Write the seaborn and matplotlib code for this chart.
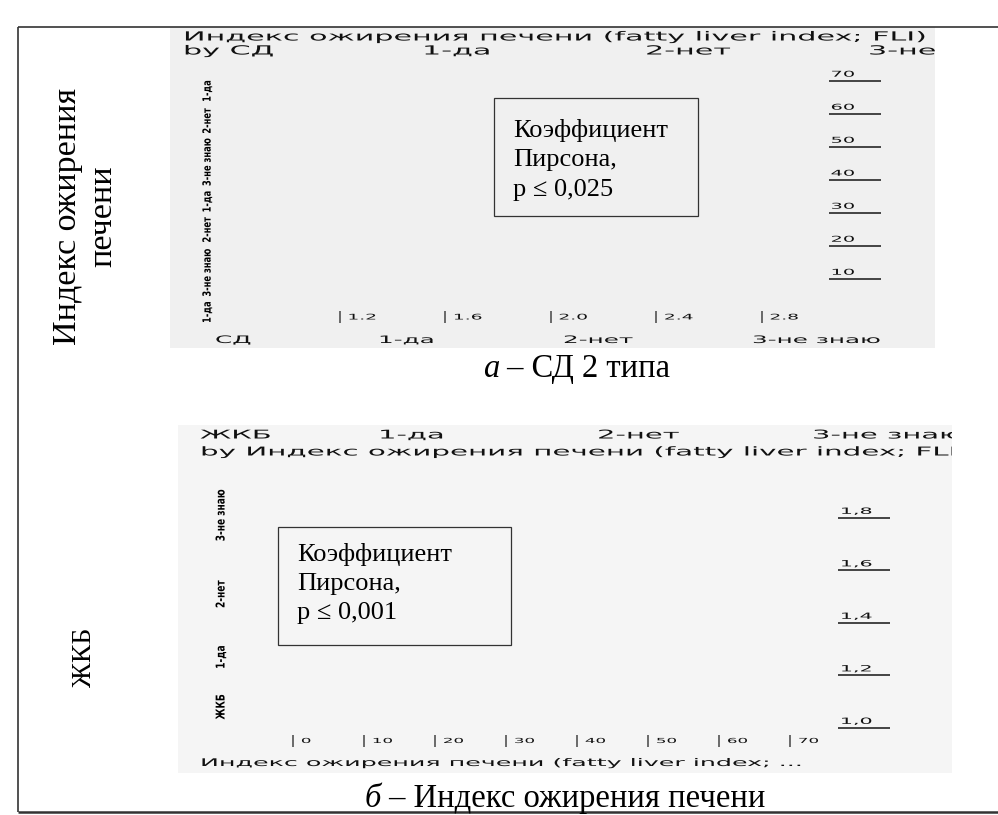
import matplotlib
matplotlib.use("Agg")
import matplotlib.pyplot as plt
import numpy as np
import pandas as pd
import seaborn as sns
from matplotlib.patches import Rectangle
from matplotlib.patheffects import AbstractPathEffect
from matplotlib.transforms import Affine2D

# ---------------------------------------------------------------- data
# panel а: FLI by СД
sd_title = "Индекс ожирения печени (fatty liver index; FLI)"
sd_groups = ["by СД", "1-да", "2-нет", "3-не знаю"]
sd_bottom = ["СД", "1-да", "2-нет", "3-не знаю"]
sd_xticks = [1.2, 1.6, 2.0, 2.4, 2.8]
sd_xtick_labels = ["1.2", "1.6", "2.0", "2.4", "2.8"]
fli_yticks = [10, 20, 30, 40, 50, 60, 70]
fli_ytick_labels = ["10", "20", "30", "40", "50", "60", "70"]
sd_point_x = 0.70
sd_point_fli = [0, 12, 25, 33.5, 45.5, 58, 67]
sd_point_lab = ["1-да", "3-не знаю", "2-нет", "1-да", "3-не знаю", "2-нет", "1-да"]
sd_box = ["Коэффициент", "Пирсона,", "p ≤ 0,025"]

# panel б: ЖКБ by FLI
zh_groups = ["ЖКБ", "1-да", "2-нет", "3-не знаю"]
zh_title = "by Индекс ожирения печени (fatty liver index; FLI)"
zh_bottom = "Индекс ожирения печени (fatty liver index; ..."
zh_xticks = [0, 10, 20, 30, 40, 50, 60, 70]
zh_xtick_labels = ["0", "10", "20", "30", "40", "50", "60", "70"]
zh_yticks = [1.0, 1.2, 1.4, 1.6, 1.8]
zh_ytick_labels = ["1,0", "1,2", "1,4", "1,6", "1,8"]
zh_point_x = -10
zh_point_y = [1.08, 1.27, 1.51, 1.81]
zh_point_lab = ["ЖКБ", "1-да", "2-нет", "3-не знаю"]
zh_box = ["Коэффициент", "Пирсона,", "p ≤ 0,001"]

# ---------------------------------------------------------------- style
sns.set_theme(style="white")
plt.rcParams["font.family"] = ["DejaVu Sans"]
SERIF = ["Liberation Serif", "DejaVu Serif"]
INK = "#111111"
TICK = "#444444"

W, H = 998, 815
fig = plt.figure(figsize=(W / 100, H / 100), dpi=100)
fig.patch.set_facecolor("white")


class Stretch(AbstractPathEffect):
    """Draw glyphs scaled along (sx) and across (sy) the text direction."""

    def __init__(self, sx, sy=1.0):
        super().__init__()
        self.sx, self.sy = sx, sy

    def draw_path(self, renderer, gc, tpath, affine, rgbFace=None):
        renderer.draw_path(gc, tpath, Affine2D().scale(self.sx, self.sy) + affine, rgbFace)


WIDE = [Stretch(2.4)]
THICK = [Stretch(1.0, 1.35)]


def px_axes(box, **kw):
    l, t, r, b = box
    return fig.add_axes([l / W, 1 - b / H, (r - l) / W, (b - t) / H], **kw)


def make_panel(box, face):
    ax = px_axes(box)
    ax.set_facecolor(face)
    for s in ax.spines.values():
        s.set_visible(False)
    return ax


def finish_panel(ax, xlim, ylim):
    ax.set_xlim(*xlim)
    ax.set_ylim(*ylim)
    ax.set_xticks([])
    ax.set_yticks([])
    ax.set_xlabel("")
    ax.set_ylabel("")


def ptext(ax, box, x, y, s, size):
    l, t, r, b = box
    ax.text((x - l) / (r - l), (b - y) / (b - t), s, transform=ax.transAxes,
            fontsize=size, ha="left", va="center", color=INK, clip_on=True,
            path_effects=WIDE)


def draw_axes_ticks(ax, xt, xl, bar_y, x_dx, yt, yl, line_x, lab_x, y_dy, size_x, size_y):
    bars = pd.DataFrame({"v": xt, "y": [bar_y] * len(xt)})
    sns.scatterplot(data=bars, x="v", y="y", marker="|", s=70, color=TICK,
                    linewidth=1.1, ax=ax, legend=False)
    for v, lab in zip(xt, xl):
        ax.text(v + x_dx, bar_y, lab, fontsize=size_x, ha="left", va="center",
                color=INK, path_effects=WIDE)
    rules = pd.DataFrame({"x": [line_x] * len(yt), "v": yt})
    sns.scatterplot(data=rules, x="x", y="v", marker="_", s=1400, color=TICK,
                    linewidth=1.4, ax=ax, legend=False)
    for v, lab in zip(yt, yl):
        ax.text(lab_x, v + y_dy, lab, fontsize=size_y, ha="left", va="bottom",
                color=INK, path_effects=WIDE)


# ---------------------------------------------------------------- panel а
box1 = (170, 27, 935, 348)
xlim1, ylim1 = (0.5555, 3.456), (-10.9, 86.36)
ax1 = make_panel(box1, "#f0f0f0")
draw_axes_ticks(ax1, sd_xticks, sd_xtick_labels, -1.5, 0.028,
                fli_yticks, fli_ytick_labels, 3.154, 3.06, 0.7, 5.6, 5.8)
for v, lab in zip(sd_point_fli, sd_point_lab):
    ax1.text(sd_point_x, v, lab, rotation=90, fontsize=6.0, fontweight="bold",
             ha="center", va="center", color="black", path_effects=THICK)
ptext(ax1, box1, 183, 37, sd_title, 9.05)
for x, s in zip([183, 422, 645, 868], sd_groups):
    ptext(ax1, box1, x, 51, s, 9.05)
for x, s in zip([215, 378, 563, 752], sd_bottom):
    ptext(ax1, box1, x, 340, s, 7.4)
finish_panel(ax1, xlim1, ylim1)

# ---------------------------------------------------------------- panel б
box2 = (178, 425, 952, 773)
xlim2, ylim2 = (-16.2, 92.8), (0.8286, 2.154)
ax2 = make_panel(box2, "#f5f5f5")
draw_axes_ticks(ax2, zh_xticks, zh_xtick_labels, 0.9505, 1.1,
                zh_yticks, zh_ytick_labels, 80.4, 77.0, 0.008, 5.0, 6.2)
for v, lab in zip(zh_point_y, zh_point_lab):
    ax2.text(zh_point_x, v, lab, rotation=90, fontsize=6.5, fontweight="bold",
             ha="center", va="center", color="black", path_effects=THICK)
for x, s in zip([200, 378, 597, 812], zh_groups):
    ptext(ax2, box2, x, 435, s, 8.7)
ptext(ax2, box2, 200, 452, zh_title, 8.8)
ptext(ax2, box2, 200, 763, zh_bottom, 7.6)
finish_panel(ax2, xlim2, ylim2)

# ---------------------------------------------------------------- page layer
doc = fig.add_axes([0, 0, 1, 1], zorder=10)
doc.set_xlim(0, W)
doc.set_ylim(H, 0)
doc.axis("off")
doc.patch.set_alpha(0)

# table frame
doc.plot([18, 998], [27, 27], color="#333333", lw=1.2, solid_capstyle="butt")
doc.plot([18, 18], [27, 812], color="#333333", lw=1.2, solid_capstyle="butt")
doc.plot([18, 998], [812, 812], color="#333333", lw=1.8, solid_capstyle="butt")

# left-column row headers
doc.text(85, 216, "Индекс ожирения\nпечени", rotation=90, ha="center", va="center",
         multialignment="center", fontsize=24.5, family=SERIF, color="black",
         linespacing=1.2)
doc.text(85, 657, "ЖКБ", rotation=90, ha="center", va="center", fontsize=20,
         family=SERIF, color="black")

# correlation notes
for (l, t, r, b), lines, x0, ys in [((494, 98, 698, 216), sd_box, 513, [130, 160, 190]),
                                    ((278, 527, 511, 645), zh_box, 297, [555, 584, 613])]:
    doc.add_patch(Rectangle((l, t), r - l, b - t, fill=False, ec="#333333", lw=0.9))
    for y, s in zip(ys, lines):
        doc.text(x0, y, s, ha="left", va="center", fontsize=19, family=SERIF,
                 color="black")

# captions
for x0, y0, letter, rest in [(483, 384, "а", " – СД 2 типа"),
                             (365, 814, "б", " – Индекс ожирения печени")]:
    it = doc.text(x0, y0, letter, ha="left", va="bottom", fontsize=23.5,
                  family=SERIF, style="italic", color="black")
    doc.annotate(rest, xy=(1, 0), xycoords=it, ha="left", va="bottom",
                 fontsize=23.5, family=SERIF, color="black")

fig.savefig("out.png", dpi=100, facecolor="white")
